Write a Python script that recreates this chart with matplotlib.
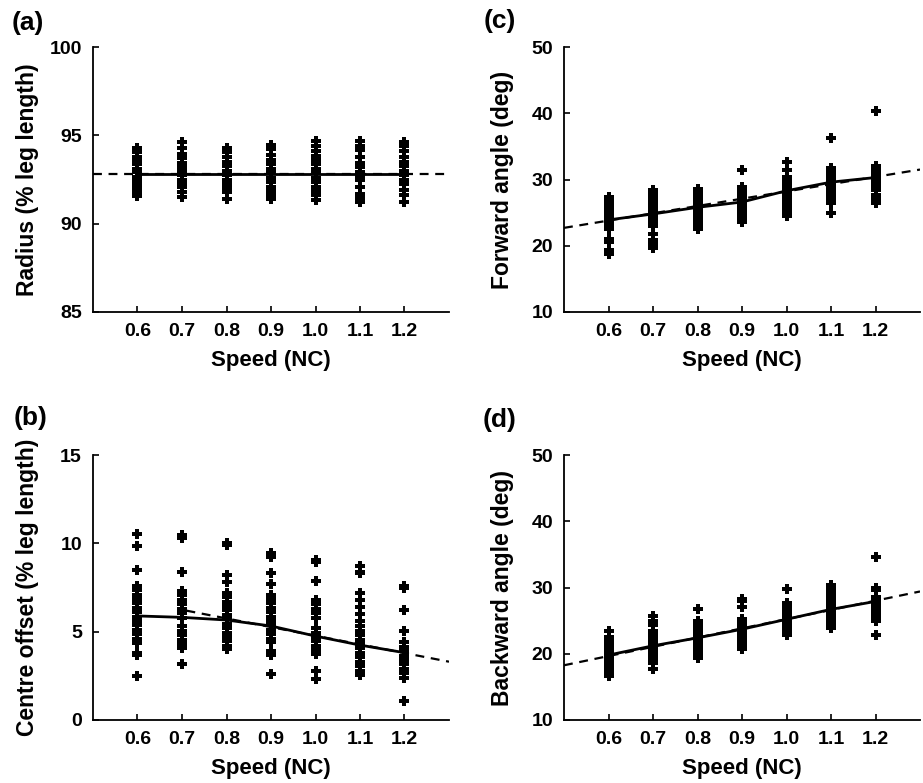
import matplotlib
matplotlib.use("Agg")
import matplotlib.pyplot as plt

plt.rcParams['font.family'] = ['Liberation Sans', 'DejaVu Sans']
plt.rcParams['font.weight'] = 'bold'

speeds = [0.6, 0.7, 0.8, 0.9, 1.0, 1.1, 1.2]
speed_labels = ['0.6', '0.7', '0.8', '0.9', '1.0', '1.1', '1.2']

# (a) Radius (% leg length)
radius = [
    [94.3, 94.05, 93.8, 93.6, 93.35, 93.1, 92.9, 92.65, 92.4, 92.2, 91.95, 91.75, 91.55],
    [94.6, 94.3, 93.95, 93.7, 93.45, 93.2, 93.0, 92.75, 92.5, 92.3, 92.05, 91.8, 91.5],
    [94.3, 94.05, 93.75, 93.5, 93.25, 93.0, 92.75, 92.5, 92.25, 92.0, 91.8, 91.4],
    [94.45, 94.2, 93.9, 93.6, 93.35, 93.1, 92.85, 92.6, 92.35, 92.1, 91.85, 91.6, 91.4],
    [94.7, 94.4, 94.1, 93.85, 93.6, 93.35, 93.1, 92.85, 92.6, 92.35, 92.1, 91.85, 91.6, 91.35],
    [94.7, 94.4, 94.15, 93.75, 93.45, 93.2, 92.95, 92.7, 92.45, 92.1, 91.7, 91.45, 91.2],
    [94.65, 94.4, 94.1, 93.8, 93.5, 93.25, 93.0, 92.75, 92.5, 92.25, 91.9, 91.6, 91.25],
]
radius_mean = [92.8, 92.8, 92.8, 92.8, 92.8, 92.8, 92.8]
radius_fit_x = [0.5, 1.3]
radius_fit_y = [92.8, 92.8]

# (b) Centre offset (% leg length)
offset = [
    [10.55, 9.85, 8.5, 7.6, 7.35, 7.1, 6.85, 6.6, 6.35, 6.1, 5.85, 5.6, 5.35, 5.1, 4.85, 4.6, 4.35, 3.8, 3.7, 2.5],
    [10.45, 10.3, 8.35, 7.3, 7.05, 6.8, 6.55, 6.3, 6.05, 5.8, 5.3, 5.05, 4.8, 4.55, 4.3, 4.1, 3.15],
    [10.0, 9.9, 8.2, 7.8, 7.2, 6.95, 6.7, 6.45, 6.2, 5.95, 5.7, 5.45, 5.2, 4.95, 4.7, 4.45, 4.2, 4.0],
    [9.45, 9.25, 8.3, 7.7, 7.1, 6.85, 6.6, 6.35, 6.1, 5.85, 5.6, 5.35, 5.1, 4.85, 4.6, 4.4, 3.9, 3.7, 2.6],
    [9.05, 8.95, 7.85, 6.8, 6.55, 6.3, 6.05, 5.8, 5.2, 4.95, 4.7, 4.45, 4.2, 3.95, 3.75, 2.8, 2.3],
    [8.7, 8.4, 8.3, 7.2, 6.8, 6.4, 6.0, 5.6, 5.3, 5.05, 4.8, 4.55, 4.3, 4.05, 3.8, 3.55, 3.3, 3.05, 2.8, 2.55],
    [7.6, 7.5, 6.2, 5.05, 4.4, 4.15, 3.9, 3.65, 3.4, 3.15, 2.9, 2.65, 2.4, 1.05],
]
offset_mean = [5.89, 5.81, 5.66, 5.32, 4.75, 4.24, 3.81]
offset_fit_x = [0.71, 1.3]
offset_fit_y = [6.19, 3.3]

# (c) Forward angle (deg)
forward = [
    [27.3, 26.7, 26.1, 25.5, 24.9, 24.3, 23.7, 23.1, 22.5, 21.0, 20.5, 19.4, 18.8],
    [28.4, 27.8, 27.2, 26.6, 26.0, 25.4, 24.8, 24.2, 23.6, 23.0, 21.8, 20.8, 20.3, 19.7],
    [28.6, 28.0, 27.4, 26.8, 26.2, 25.6, 25.0, 24.4, 23.8, 23.2, 22.6],
    [31.4, 28.9, 28.3, 27.7, 27.1, 26.5, 25.9, 25.3, 24.7, 24.1, 23.6],
    [32.6, 31.4, 30.4, 29.8, 29.2, 28.6, 28.0, 27.4, 26.8, 26.2, 25.6, 25.0, 24.5],
    [36.3, 31.8, 31.2, 30.6, 30.0, 29.4, 28.8, 28.2, 27.6, 27.0, 26.4, 24.9],
    [40.3, 32.0, 31.4, 30.8, 30.2, 29.6, 29.0, 28.4, 27.6, 27.1, 26.5],
]
forward_mean = [23.9, 24.8, 25.8, 26.6, 28.3, 29.6, 30.3]
forward_fit_x = [0.5, 1.3]
forward_fit_y = [22.7, 31.5]

# (d) Backward angle (deg)
backward = [
    [23.4, 22.6, 22.0, 21.4, 20.8, 20.2, 19.6, 19.0, 18.4, 17.8, 17.2, 16.7],
    [25.7, 24.9, 24.3, 23.5, 22.8, 22.2, 21.6, 21.0, 20.4, 19.8, 19.2, 18.6, 17.7],
    [26.7, 25.0, 24.4, 23.8, 23.2, 22.6, 22.0, 21.4, 20.8, 20.2, 19.6, 19.3],
    [28.2, 27.9, 27.0, 25.3, 24.6, 24.0, 23.4, 22.8, 22.2, 21.6, 21.0, 20.7],
    [29.8, 27.6, 27.0, 26.4, 25.8, 25.2, 24.6, 24.0, 23.4, 22.9],
    [30.4, 29.8, 29.2, 28.6, 28.0, 27.4, 26.8, 26.2, 25.6, 25.0, 24.4, 23.9],
    [34.6, 29.9, 29.6, 28.5, 27.9, 27.3, 26.7, 26.1, 25.5, 24.9, 22.9],
]
backward_mean = [19.8, 21.2, 22.4, 23.7, 25.2, 26.7, 27.9]
backward_fit_x = [0.5, 1.3]
backward_fit_y = [18.26, 29.4]

W, H = 923, 783
fig = plt.figure(figsize=(W / 100, H / 100), dpi=100)

def px_axes(left, top, right, bottom):
    return fig.add_axes([left / W, 1 - bottom / H, (right - left) / W, (bottom - top) / H])

panels = [
    ('(a)', radius, radius_mean, radius_fit_x, radius_fit_y, 'Radius (% leg length)',
     (85, 100), [85, 90, 95, 100], (93, 47, 449, 312), (28, 23)),
    ('(b)', offset, offset_mean, offset_fit_x, offset_fit_y, 'Centre offset (% leg length)',
     (0, 15), [0, 5, 10, 15], (93, 455, 449, 720), (31, 418)),
    ('(c)', forward, forward_mean, forward_fit_x, forward_fit_y, 'Forward angle (deg)',
     (10, 50), [10, 20, 30, 40, 50], (564, 47, 920, 312), (500, 21)),
    ('(d)', backward, backward_mean, backward_fit_x, backward_fit_y, 'Backward angle (deg)',
     (10, 50), [10, 20, 30, 40, 50], (564, 455, 920, 720), (500, 420)),
]

for letter, data, mean, fx, fy, ylab, ylim, yt, box, lp in panels:
    ax = px_axes(*box)
    for s, vals in zip(speeds, data):
        ax.plot([s] * len(vals), vals, linestyle='none', marker='P', markersize=7.5,
                color='black', markeredgewidth=0, zorder=3)
    ax.plot(speeds, mean, color='black', linewidth=2.0, zorder=4)
    ax.plot(fx, fy, color='black', linewidth=1.6, linestyle=(0, (4, 3)), zorder=4)
    ax.set_xlim(0.5, 1.3)
    ax.set_ylim(*ylim)
    ax.set_xticks(speeds)
    ax.set_xticklabels(speed_labels)
    ax.set_yticks(yt)
    for sp in ['top', 'right']:
        ax.spines[sp].set_visible(False)
    for sp in ['left', 'bottom']:
        ax.spines[sp].set_linewidth(1.3)
    ax.tick_params(axis='both', direction='in', length=4, width=1.2, labelsize=14, pad=8)
    for t in ax.get_xticklabels() + ax.get_yticklabels():
        t.set_fontweight('bold')
    ax.set_xlabel('Speed (NC)', fontsize=16, fontweight='bold')
    ax.set_ylabel(ylab, fontsize=16.5, fontweight='bold')
    ax.xaxis.set_label_coords(0.5, -0.145)
    xoff = -0.183 if box[0] < 300 else -0.174
    ax.yaxis.set_label_coords(xoff, 0.5)
    ax.yaxis.label.set_va('center')
    fig.text(lp[0] / W, 1 - lp[1] / H, letter, fontsize=19, fontweight='bold',
             ha='center', va='center')

fig.savefig('out.png', dpi=100)
